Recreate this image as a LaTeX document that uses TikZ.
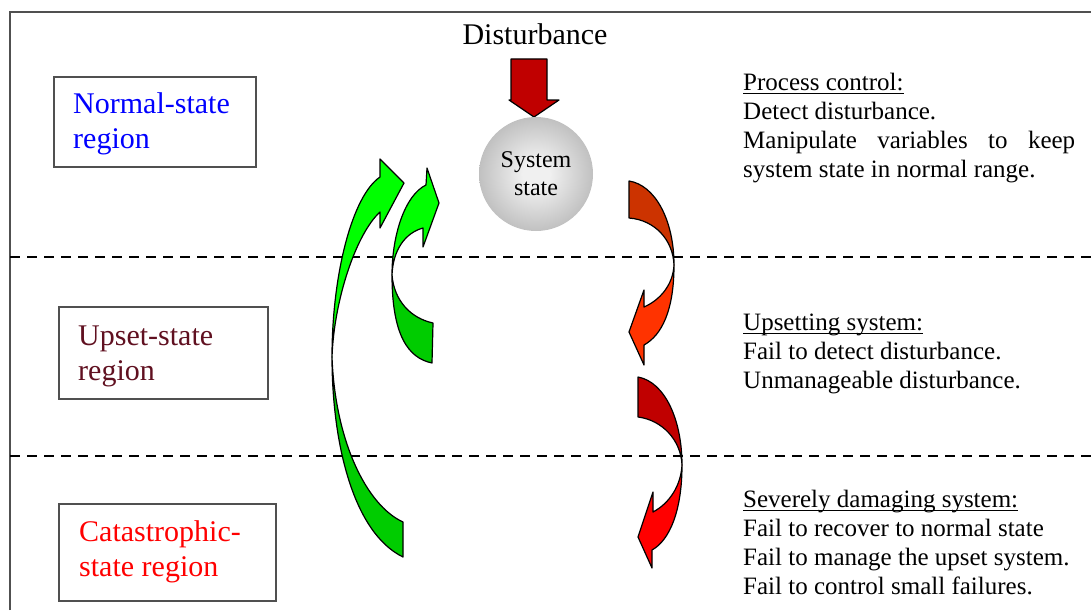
\documentclass[tikz,border=0pt]{standalone}
\usepackage{fontspec}
\setmainfont{Liberation Serif}
\definecolor{framegray}{HTML}{505050}
\definecolor{boxgray}{HTML}{505050}
\definecolor{sphlight}{HTML}{F0F0F0}
\definecolor{sphmid}{HTML}{B4B4B4}
\definecolor{sphdark}{HTML}{767676}
\definecolor{greenfront}{HTML}{00FF00}
\definecolor{greenback}{HTML}{00CC00}
\definecolor{orangeback}{HTML}{CC3300}
\definecolor{orangefront}{HTML}{FF3300}
\definecolor{redback}{HTML}{C00000}
\definecolor{redfront}{HTML}{FF0000}
\definecolor{blockred}{HTML}{C00000}
\definecolor{upsetcol}{RGB}{96,16,32}
\pgfdeclareradialshading{sphereshade}{\pgfpoint{0bp}{0bp}}{%
  color(0bp)=(sphlight); color(6bp)=(sphlight); color(30bp)=(sphmid); color(50bp)=(sphdark)}
% heading with a rule under it, drawn at a fixed depth below the baseline
\newcommand{\ulhead}[1]{\setbox0\hbox{#1}\rlap{\rule[-4pt]{\wd0}{1.4pt}}\box0}
\begin{document}
\begin{tikzpicture}[x=1pt,y=-1pt,
  frameline/.style={draw=framegray, line width=1.5pt},
  divider/.style={draw=black, line width=2pt, dash pattern=on 10pt off 7pt},
  regionbox/.style={draw=boxgray, line width=1.3pt, fill=white, inner sep=0pt, rectangle},
  regionlbl/.style={font=\fontsize{30}{35}\selectfont, inner sep=0pt, anchor=base west},
  notes/.style={font=\fontsize{25}{29}\selectfont, inner sep=0pt, anchor=base west},
  spheretext/.style={font=\fontsize{24}{29}\selectfont, inner sep=0pt, anchor=base},
  ribbon/.style={draw=black, line width=1.2pt, line join=round},
]
\useasboundingbox (0,0) rectangle (1091,610);

% outer frame
\draw[frameline] (10,610) -- (10,12) -- (1091,12);

% region dividers
\draw[divider] (10,257) -- (1091,257);
\draw[divider] (10,456) -- (1091,456);

% region boxes and their labels
\node[regionbox, minimum width=202pt, minimum height=90pt] (normalbox) at (155,122) {};
\node[regionlbl, text=blue] (normallbl) at (73,113) {\vtop{\hbox{Normal-state}\hbox{region}}};

\node[regionbox, minimum width=209pt, minimum height=92pt] (upsetbox) at (163.5,353) {};
\node[regionlbl, text=upsetcol] (upsetlbl) at (78,345) {\vtop{\hbox{Upset-state}\hbox{region}}};

\node[regionbox, minimum width=217pt, minimum height=97pt] (catbox) at (167.5,552.5) {};
\node[regionlbl, text=red] (catlbl) at (79,541) {\vtop{\hbox{Catastrophic-}\hbox{state region}}};

% disturbance acting on the system state
\node[font=\fontsize{30}{35}\selectfont, inner sep=0pt, anchor=base] (disturb) at (535,45) {Disturbance};
\draw[ribbon, fill=blockred] (511,59) -- (547,59) -- (547,100) -- (559,100) -- (534,117)
  -- (509,100) -- (511,100) -- cycle;

\node[circle, minimum size=114pt, inner sep=0pt, shading=sphereshade] (sphere) at (536,174) {};
\node[spheretext] (systxt) at (536,167) {System};
\node[spheretext] (statetxt) at (536,195) {state};

% large recovery arrow: catastrophic -> normal
\draw[ribbon, fill=greenback] (332,357) .. controls (332,440) and (352,532) .. (403,557)
  -- (403,522) .. controls (366,505) and (335,440) .. (332,357) -- cycle;
\draw[ribbon, fill=greenfront] (380,177) .. controls (352,196) and (332,275) .. (332,357)
  .. controls (334,300) and (356,234) .. (380,212)
  -- (380,228) -- (404,183) -- (380,159) -- cycle;

% small recovery arrow: upset -> normal
\draw[ribbon, fill=greenback] (392,275) .. controls (392,335) and (408,358) .. (432,363)
  -- (433,323) .. controls (410,318) and (394,300) .. (392,275) -- cycle;
\draw[ribbon, fill=greenfront] (426,185) .. controls (405,195) and (392,235) .. (392,275)
  .. controls (393,250) and (405,233) .. (423,228)
  -- (423,247) -- (439,203) -- (427,168) -- cycle;

% normal -> upset
\draw[ribbon, fill=orangeback] (629,181) .. controls (655,185) and (674,220) .. (674,265)
  .. controls (673,240) and (655,220) .. (629,218) -- cycle;
\draw[ribbon, fill=orangefront] (674,265) .. controls (674,310) and (662,335) .. (644,345)
  -- (644,365) -- (629,332) -- (644,290) -- (644,307)
  .. controls (660,300) and (673,285) .. (674,265) -- cycle;

% upset -> catastrophic
\draw[ribbon, fill=redback] (638,377) .. controls (665,382) and (682,420) .. (682,465)
  .. controls (681,440) and (662,420) .. (638,417) -- cycle;
\draw[ribbon, fill=redfront] (682,465) .. controls (682,510) and (670,540) .. (652,550)
  -- (652,568) -- (638,537) -- (653,492) -- (653,512)
  .. controls (670,503) and (681,485) .. (682,465) -- cycle;

% descriptions of each region
\node[notes] (pcnote) at (743,90) {\vtop{\hsize=332pt
  \hbox{\ulhead{Process control:}}
  \hbox{Detect disturbance.}
  \hbox to \hsize{Manipulate\hfill variables\hfill to\hfill keep}
  \hbox{system state in normal range.}}};

\node[notes] (upnote) at (743,330) {\vtop{
  \hbox{\ulhead{Upsetting system:}}
  \hbox{Fail to detect disturbance.}
  \hbox{Unmanageable disturbance.}}};

\node[notes] (sevnote) at (743,507) {\vtop{
  \hbox{\ulhead{Severely damaging system:}}
  \hbox{Fail to recover to normal state}
  \hbox{Fail to manage the upset system.}
  \hbox{Fail to control small failures.}}};
\end{tikzpicture}
\end{document}
